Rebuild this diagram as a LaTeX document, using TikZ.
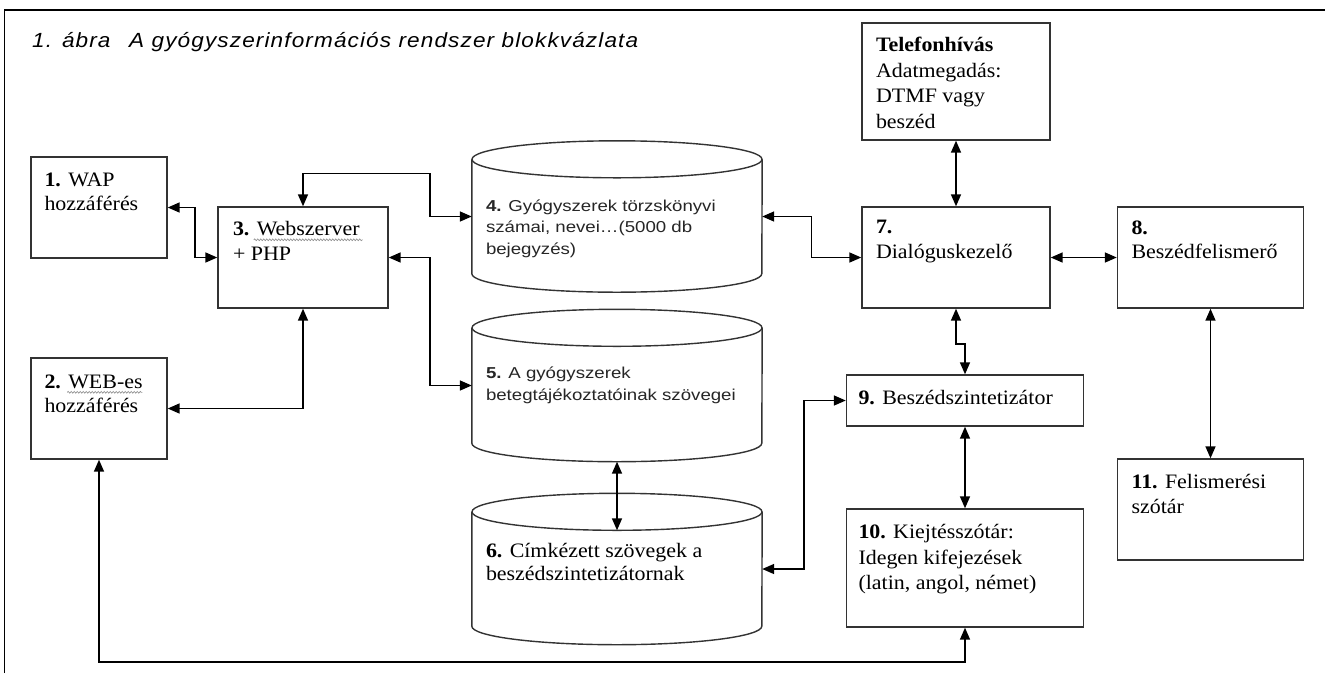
\documentclass[tikz,border=0pt]{standalone}
\usepackage{fontspec}
\usepackage{graphicx}
\setmainfont{Liberation Serif}[FakeStretch=1.07]
\newfontfamily\cylsans{Liberation Sans}[FakeStretch=1.18]
\newfontfamily\titlesans{Liberation Sans}[LetterSpace=5]
\usetikzlibrary{arrows.meta,calc,decorations.pathmorphing}
\begin{document}
\begin{tikzpicture}[x=1pt,y=1pt,
  bx/.style={draw=black!80,line width=1.4pt,inner sep=0pt},
  txt/.style={anchor=north west,inner sep=0pt,align=left,font=\fontsize{20.5}{24.5}\selectfont},
  ctxt/.style={anchor=north west,inner sep=0pt,align=left,font=\cylsans\fontsize{15.8}{21.5}\selectfont,text=black!85},
  cylbody/.style={inner sep=0pt,minimum width=290pt,minimum height=114pt},
  conn/.style={line width=1.6pt,{Triangle[length=12pt,width=10pt]}-{Triangle[length=12pt,width=10pt]}},
  cylline/.style={draw=black!80,line width=1.4pt},
  squiggle/.style={draw=black!45,line width=0.6pt,decorate,decoration={snake,amplitude=0.9pt,segment length=3pt}}
]
\useasboundingbox (0,0) rectangle (1325,-673);
\fill[white] (0,0) rectangle (1325,-673);
\draw[line width=1.3pt] (4.5,-673) -- (4.5,-10) -- (1325,-10);

% title
\node[anchor=base west,inner sep=0pt] (title) at (32,-47)
  {\resizebox{606pt}{\height}{\titlesans\itshape\fontsize{20.5}{22}\selectfont 1. ábra\hspace{0.5em} A gyógyszerinformációs rendszer blokkvázlata}};

% boxes
\node[bx,minimum width=136pt,minimum height=101pt] (b1) at (99,-207.5) {};
\node[bx,minimum width=170pt,minimum height=101pt] (b3) at (303,-257.5) {};
\node[bx,minimum width=136pt,minimum height=101pt] (b2) at (99,-408.5) {};
\node[bx,minimum width=188pt,minimum height=117pt] (tel) at (956,-81.5) {};
\node[bx,minimum width=188pt,minimum height=101pt] (b7) at (956,-257.5) {};
\node[bx,minimum width=186pt,minimum height=101pt] (b8) at (1210.5,-257.5) {};
\node[bx,minimum width=237pt,minimum height=51pt] (b9) at (965,-400.5) {};
\node[bx,minimum width=237pt,minimum height=118pt] (b10) at (965,-568) {};
\node[bx,minimum width=186pt,minimum height=101pt] (b11) at (1210.5,-509.5) {};

% cylinders
\node[cylbody] (c4) at (617,-216.5) {};
\node[cylbody,minimum height=115pt] (c5) at (617,-385.5) {};
\node[cylbody] (c6) at (617,-569) {};
\foreach \c in {c4,c5,c6}{
  \draw[cylline] (\c.north west) -- (\c.south west)
     arc[start angle=180,end angle=360,x radius=145pt,y radius=18.5pt] -- (\c.north east);
  \draw[cylline] (\c.north) ellipse [x radius=145pt,y radius=18.5pt];
}

% texts
\node[txt] (t1) at ([shift={(14,-16)}]b1.north west) {\textbf{1.} WAP\\hozzáférés};
\node[txt] (t3) at ([shift={(15.5,-15)}]b3.north west) {\textbf{3.} Webszerver\\+ PHP};
\node[txt] (t2) at ([shift={(14,-17)}]b2.north west) {\textbf{2.} WEB-es\\hozzáférés};
\node[txt,font=\fontsize{20.5}{25.5}\selectfont] (ttel) at ([shift={(14.5,-15)}]tel.north west) {\textbf{Telefonhívás}\\Adatmegadás:\\DTMF vagy\\beszéd};
\node[txt] (t7) at ([shift={(14.5,-14)}]b7.north west) {\textbf{7.}\\Dialóguskezelő};
\node[txt] (t8) at ([shift={(14.5,-14)}]b8.north west) {\textbf{8.}\\Beszédfelismerő};
\node[txt] (t9) at ([shift={(12.5,-16)}]b9.north west) {\textbf{9.} Beszédszintetizátor};
\node[txt,font=\fontsize{20.5}{25.5}\selectfont] (t10) at ([shift={(12.5,-16)}]b10.north west) {\textbf{10.} Kiejtésszótár:\\Idegen kifejezések\\(latin, angol, német)};
\node[txt] (t11) at ([shift={(14.5,-16)}]b11.north west) {\textbf{11.} Felismerési\\szótár};
\node[ctxt] (t4) at ([shift={(14,-40)}]c4.north west) {\textbf{4.} Gyógyszerek törzskönyvi\\számai, nevei…(5000 db\\bejegyzés)};
\node[ctxt] (t5) at ([shift={(14,-39)}]c5.north west) {\textbf{5.} A gyógyszerek\\betegtájékoztatóinak szövegei};
\node[txt,font=\fontsize{20.5}{23}\selectfont] (t6) at ([shift={(14,-31)}]c6.north west) {\textbf{6.} Címkézett szövegek a\\beszédszintetizátornak};

% spell-check squiggles
\draw[squiggle] ([shift={(21,-18.5)}]t3.north west) -- ++(109,0);
\draw[squiggle] ([shift={(23,-18)}]t2.north west) -- ++(75,0);

% connectors
\draw[conn] (b1.east) -- ++(27,0) |- (b3.west);
\draw[conn] (b3.north) -- ++(0,33) -| ([xshift=-42]c4.west) -- (c4.west);
\draw[conn] (b3.east) -| ([xshift=-42]c5.west) -- (c5.west);
\draw[conn] (b3.south) |- (b2.east);
\draw[conn] (c4.east) -| ([xshift=-50]b7.west) -- (b7.west);
\draw[conn] (tel.south) -- (b7.north);
\draw[conn] (b7.east) -- (b8.west);
\draw[conn] (b7.south) -- ++(0,-35) -| (b9.north);
\draw[conn] (c6.east) -| ([xshift=-42]b9.west) -- (b9.west);
\draw[conn] (b9.south) -- (b10.north);
\draw[conn] (b8.south) -- (b11.north);
\draw[conn] ([yshift=-18.5]c5.south) -- ([yshift=-18.5]c6.north);
\draw[conn] (b2.south) |- ([yshift=-34]b10.south) -- (b10.south);
\end{tikzpicture}
\end{document}
